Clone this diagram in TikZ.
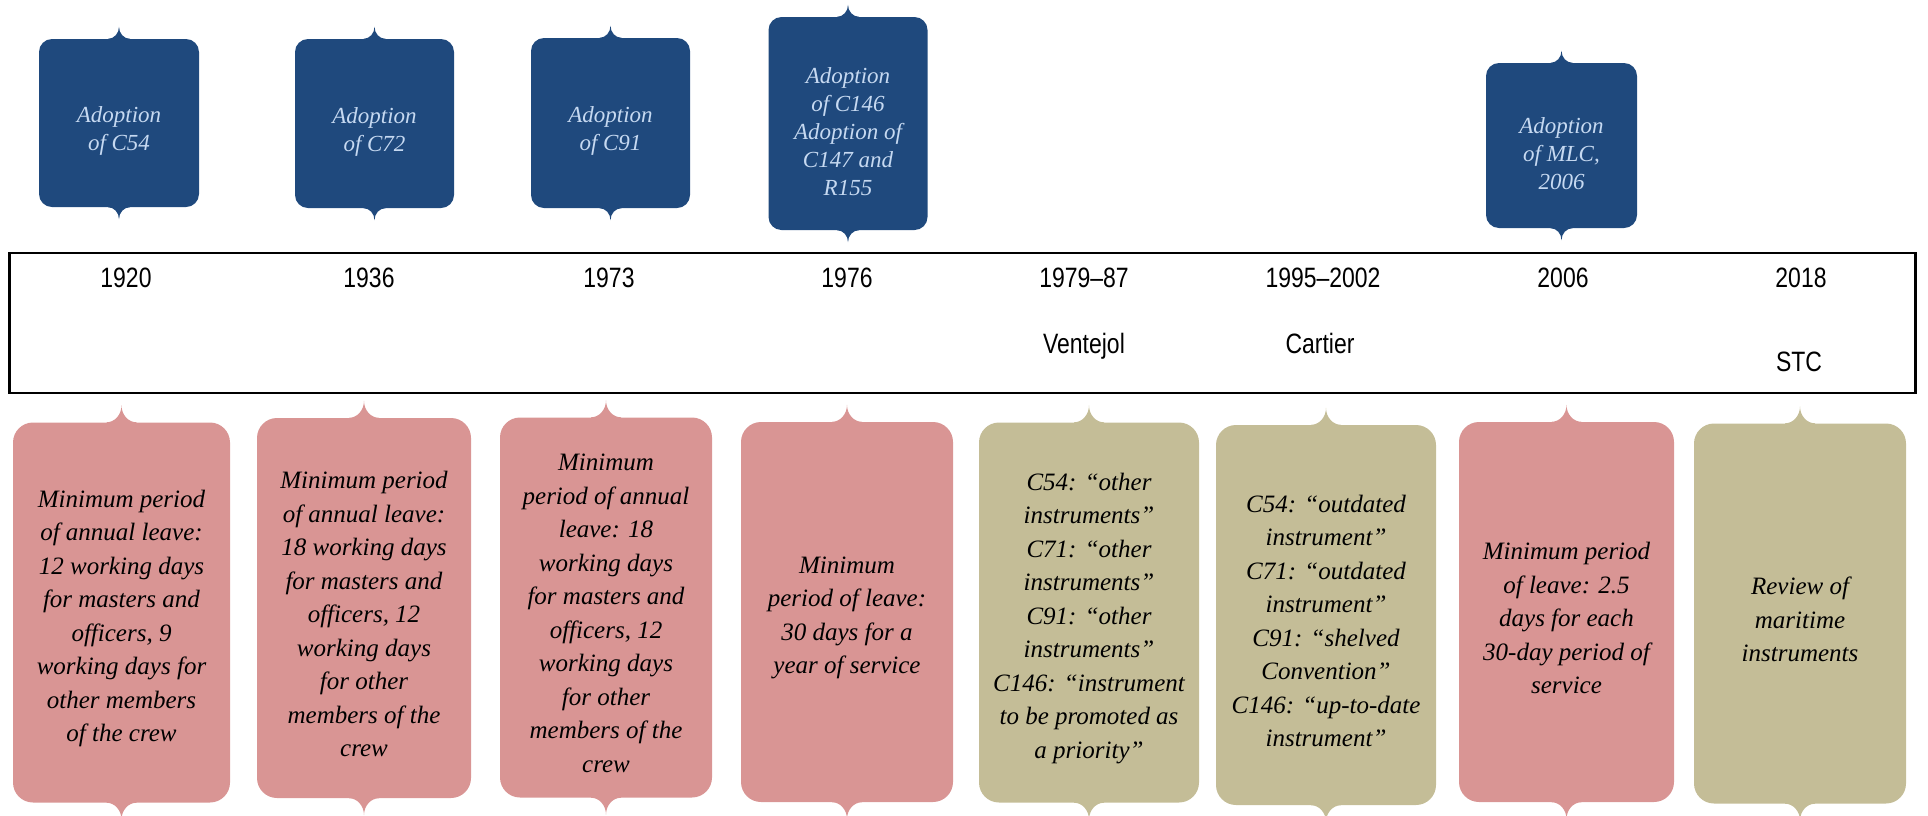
\documentclass[tikz,border=0pt]{standalone}
\usepackage{fontspec}
\setmainfont{Liberation Serif}
\setsansfont{Liberation Sans}
\usetikzlibrary{calc}

\definecolor{navybox}{HTML}{1F497D}
\definecolor{paleblue}{HTML}{C6D9F1}
\definecolor{pinkbox}{HTML}{D99594}
\definecolor{olivebox}{HTML}{C4BD97}

\newcommand{\narrow}[1]{\scalebox{0.82}[1]{#1}}

% brace tips on the top and bottom edge of a box
\newcommand{\tips}[4]{%
  \fill[#2] ($(#1.north)+(-#3,1)$) -- ++(0,-1) .. controls +(0.55*#3,0) and +(0,0.55*#4) .. ($(#1.north)+(0,-#4)$)
     .. controls +(0,0.55*#4) and +(-0.55*#3,0) .. ($(#1.north)+(#3,0)$) -- ++(0,1) -- cycle;
  \fill[#2] ($(#1.south)+(-#3,-1)$) -- ++(0,1) .. controls +(0.55*#3,0) and +(0,-0.55*#4) .. ($(#1.south)+(0,#4)$)
     .. controls +(0,-0.55*#4) and +(-0.55*#3,0) .. ($(#1.south)+(#3,0)$) -- ++(0,-1) -- cycle;
}

\begin{document}
\begin{tikzpicture}[x=1pt,y=-1pt,
    topbox/.style={fill=navybox, rounded corners=13pt, inner sep=0pt},
    lowbox/.style={rounded corners=20pt, minimum height=380pt, inner sep=0pt},
    toptext/.style={text=paleblue, align=center, font=\fontsize{23}{28}\selectfont\itshape},
    lowtext/.style={align=center, font=\fontsize{25}{33.5}\selectfont\itshape},
    yearlabel/.style={anchor=base, font=\sffamily\fontsize{28}{32}\selectfont}]
    \useasboundingbox (0,0) rectangle (1928,815);

    % timeline band
    \node[draw, line width=2.5pt, minimum width=1906pt, minimum height=140pt, inner sep=0pt] (band) at (962.5,323) {};

    % adoptions
    \foreach \n/\x/\y/\w/\h/\txt in {adoptA/119/123/160/168/{Adoption\\of C54},
            adoptB/374.5/123.5/159/169/{Adoption\\of C72},
            adoptC/610.5/123/159/170/{Adoption\\of C91},
            adoptD/848/123.5/159/213/{Adoption\\of C146\\Adoption of\\C147 and\\R155},
            adoptE/1561.5/145.5/151/165/{Adoption\\of MLC,\\2006}} {
            \node[topbox, minimum width=\w pt, minimum height=\h pt] (\n) at (\x,\y) {};
            \tips{\n}{navybox}{11}{12}
            \node[toptext] (\n-text) at ([yshift=-8pt]\n.center) {\txt};
        }

    % years on the band
    \foreach \n/\x/\yr in {yr1920/126/1920, yr1936/369/1936, yr1973/609/1973, yr1976/847/1976,
            yr1979/1084/1979–87, yr1995/1323/1995–2002, yr2006/1563/2006, yr2018/1801/2018} {
            \node[yearlabel] (\n) at (\x,287) {\narrow{\yr}};
        }
    \node[yearlabel] (ventejol) at (1084,353) {\narrow{Ventejol}};
    \node[yearlabel] (cartier) at (1320,353) {\narrow{Cartier}};
    \node[yearlabel] (stc) at (1799,371) {\narrow{STC}};

    % leave periods and reviews
    \foreach \n/\x/\y/\w/\c/\txt in {
            leaveA/121.5/612.5/217/pinkbox/{Minimum period\\of annual leave:\\12 working days\\for masters and\\officers, 9\\working days for\\other members\\of the crew},
            leaveB/364/608/214/pinkbox/{Minimum period\\of annual leave:\\18 working days\\for masters and\\officers, 12\\working days\\for other\\members of the\\crew},
            leaveC/606/607.5/212/pinkbox/{Minimum\\period of annual\\leave: 18\\working days\\for masters and\\officers, 12\\working days\\for other\\members of the\\crew},
            leaveD/847/612/212/pinkbox/{Minimum\\period of leave:\\30 days for a\\year of service},
            reviewA/1089/612.5/220/olivebox/{C54: “other\\instruments”\\C71: “other\\instruments”\\C91: “other\\instruments”\\C146: “instrument\\to be promoted as\\a priority”},
            reviewB/1326/615/220/olivebox/{C54: “outdated\\instrument”\\C71: “outdated\\instrument”\\C91: “shelved\\Convention”\\C146: “up-to-date\\instrument”},
            leaveE/1566.5/612/215/pinkbox/{Minimum period\\of leave: 2.5\\days for each\\30-day period of\\service},
            reviewC/1800/613.5/212/olivebox/{Review of\\maritime\\instruments}} {
            \node[lowbox, fill=\c, minimum width=\w pt] (\n) at (\x,\y) {};
            \tips{\n}{\c}{15}{17}
            \node[lowtext] (\n-text) at ([yshift=-6pt]\n.center) {\txt};
        }
\end{tikzpicture}
\end{document}
